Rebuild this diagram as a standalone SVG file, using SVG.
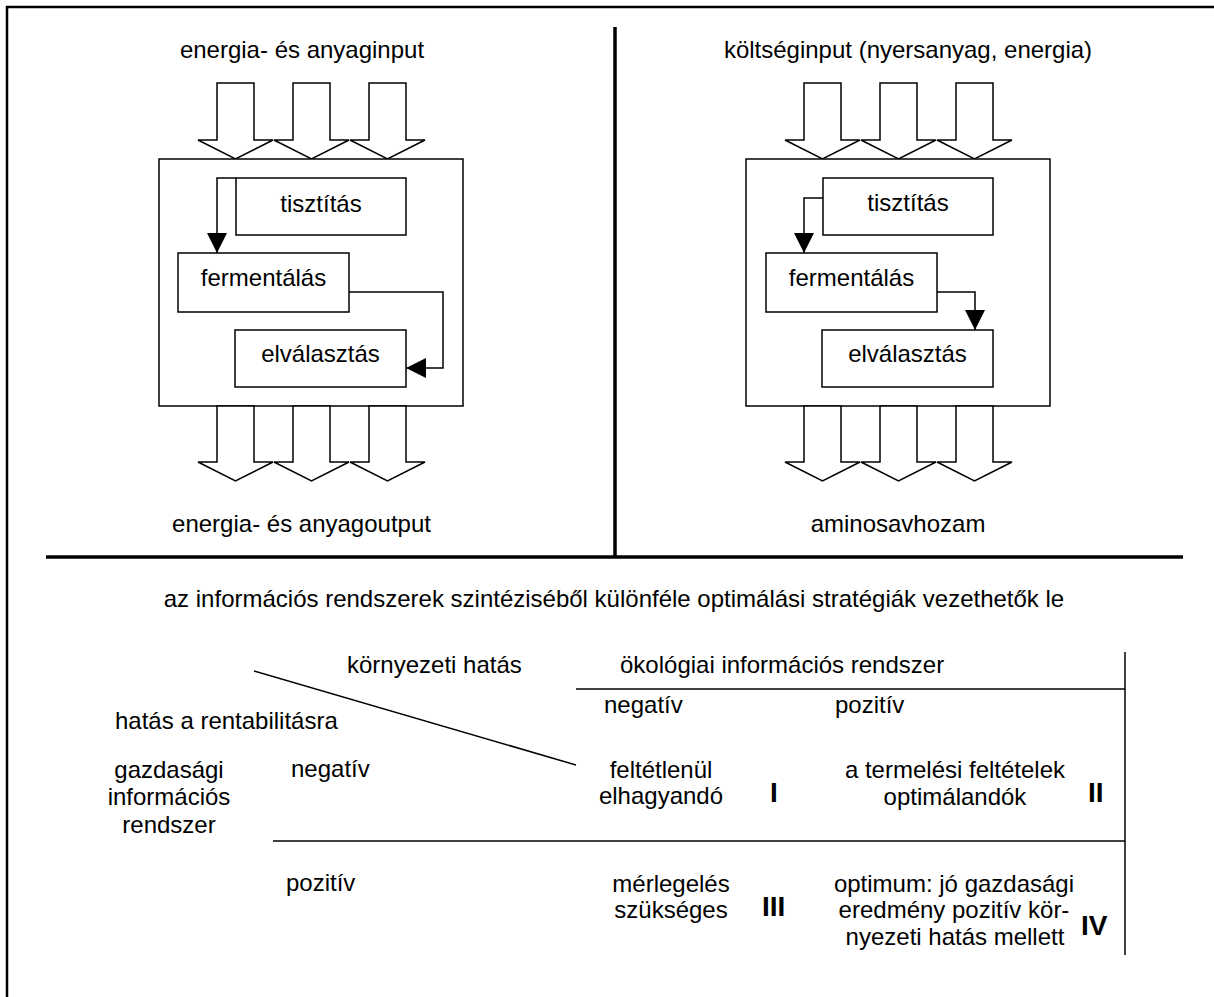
<svg xmlns="http://www.w3.org/2000/svg" width="1214" height="997" viewBox="0 0 1214 997">
<defs>
<style>
text{font-family:"Liberation Sans",Arial,sans-serif;font-size:24px;fill:#000}
.c{text-anchor:middle}
.b{font-weight:bold;font-size:28px}
.box{fill:#fff;stroke:#000;stroke-width:1.5}
.arr{fill:#fff;stroke:#000;stroke-width:1.5;stroke-linejoin:miter}
.ln{fill:none;stroke:#000;stroke-width:1.5}
.thick{fill:none;stroke:#000;stroke-width:3.5}
.frame{fill:none;stroke:#000;stroke-width:2.5}
</style>
<marker id="ah" viewBox="0 0 20 20" refX="20" refY="10" markerWidth="20" markerHeight="20" markerUnits="userSpaceOnUse" orient="auto">
<path d="M0,0 L20,10 L0,20 Z" fill="#000"/>
</marker>
<path id="inArrow" class="arr" d="M-18.5,83 H18.5 V140 H37.5 L0,159 L-37.5,140 H-18.5 Z"/>
<path id="outArrow" class="arr" d="M-18.5,406 H18.5 V462 H37.5 L0,481 L-37.5,462 H-18.5 Z"/>
</defs>
<rect width="1214" height="997" fill="#fff"/>
<g id="frame">
<path class="frame" d="M7,997 V7 H1214"/>
<path class="thick" d="M615,27 V557"/>
<path class="thick" d="M46,557 H1183"/>
</g>
<g id="left-panel">
<text class="c" x="302" y="58">energia- és anyaginput</text>
<use href="#inArrow" x="235.5"/>
<use href="#inArrow" x="311.5"/>
<use href="#inArrow" x="387.5"/>
<rect class="box" x="159" y="159" width="304" height="247"/>
<use href="#outArrow" x="235.5"/>
<use href="#outArrow" x="311.5"/>
<use href="#outArrow" x="387.5"/>
<text class="c" x="301.5" y="532">energia- és anyagoutput</text>
</g>
<g id="l-tisztitas"><rect class="box" x="236" y="178" width="170" height="57"/><text class="c" x="321" y="212">tisztítás</text></g>
<g id="l-fermentalas"><rect class="box" x="178" y="253" width="171" height="59"/><text class="c" x="263.5" y="286">fermentálás</text></g>
<g id="l-elvalasztas"><rect class="box" x="235" y="330" width="171" height="57"/><text class="c" x="320.5" y="362">elválasztás</text></g>
<g id="right-panel">
<text class="c" x="908" y="58">költséginput (nyersanyag, energia)</text>
<use href="#inArrow" x="822.5"/>
<use href="#inArrow" x="898.5"/>
<use href="#inArrow" x="974.5"/>
<rect class="box" x="746" y="159" width="304" height="247"/>
<use href="#outArrow" x="822.5"/>
<use href="#outArrow" x="898.5"/>
<use href="#outArrow" x="974.5"/>
<text class="c" x="898" y="532">aminosavhozam</text>
</g>
<g id="r-tisztitas"><rect class="box" x="823" y="178" width="170" height="57"/><text class="c" x="908" y="211">tisztítás</text></g>
<g id="r-fermentalas"><rect class="box" x="766" y="253" width="171" height="59"/><text class="c" x="851.5" y="286">fermentálás</text></g>
<g id="r-elvalasztas"><rect class="box" x="822" y="330" width="171" height="57"/><text class="c" x="907.5" y="362">elválasztás</text></g>
<g id="connectors">
<path class="ln" d="M236,178 H217 V253" marker-end="url(#ah)"/>
<path class="ln" d="M349,292 H443 V368 H406" marker-end="url(#ah)"/>
<path class="ln" d="M823,198 H804 V253" marker-end="url(#ah)"/>
<path class="ln" d="M937,292 H975 V330" marker-end="url(#ah)"/>
</g>
<g id="matrix">
<text class="c" x="614" y="607">az információs rendszerek szintéziséből különféle optimálási stratégiák vezethetők le</text>
<path class="ln" d="M254,671 L576,765"/>
<path class="ln" d="M576,689 H1125"/>
<path class="ln" d="M273,841 H1125"/>
<path class="ln" d="M1125,652 V955"/>
<text x="347" y="673">környezeti hatás</text>
<text x="620" y="673">ökológiai információs rendszer</text>
<text x="115" y="729">hatás a rentabilitásra</text>
<text x="604" y="713">negatív</text>
<text x="835" y="713">pozitív</text>
<text class="c" x="169" y="778">gazdasági</text>
<text class="c" x="169" y="805">információs</text>
<text class="c" x="169" y="833">rendszer</text>
<text x="291" y="777">negatív</text>
<text x="286" y="891">pozitív</text>
<text class="c" x="661" y="778">feltétlenül</text>
<text class="c" x="661" y="804">elhagyandó</text>
<text class="b" x="770" y="802">I</text>
<text class="c" x="955" y="778">a termelési feltételek</text>
<text class="c" x="955" y="805">optimálandók</text>
<text class="b" x="1088" y="802">II</text>
<text class="c" x="671" y="892">mérlegelés</text>
<text class="c" x="671" y="918">szükséges</text>
<text class="b" x="762" y="916">III</text>
<text class="c" x="954" y="892">optimum: jó gazdasági</text>
<text class="c" x="954" y="918">eredmény pozitív kör-</text>
<text class="c" x="955" y="945">nyezeti hatás mellett</text>
<text class="b" x="1081" y="935">IV</text>
</g>
</svg>
